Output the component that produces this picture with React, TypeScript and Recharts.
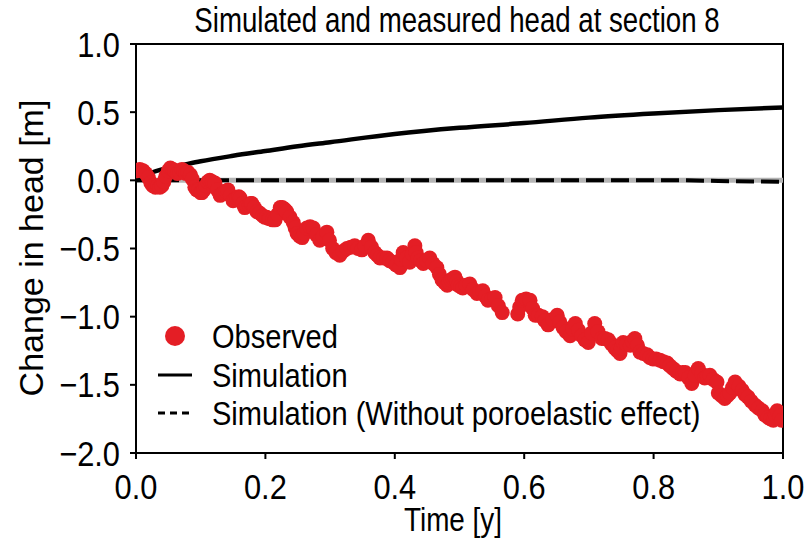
import React from 'react';
import { ComposedChart, Scatter, Line, XAxis, YAxis, ReferenceLine, ReferenceArea } from 'recharts';

const xTicks = [0, 0.2, 0.4, 0.6, 0.8, 1.0];
const yTicks = [-2, -1.5, -1, -0.5, 0, 0.5, 1];

const obsT = [
  0.002, 0.006, 0.011, 0.015, 0.019, 0.023, 0.026, 0.030, 0.034, 0.037, 0.040, 0.043, 0.046, 0.050, 0.053,
  0.057, 0.060, 0.064, 0.068, 0.071, 0.074, 0.077, 0.080, 0.084, 0.087, 0.091, 0.094, 0.097, 0.100, 0.102,
  0.105, 0.108, 0.111, 0.114, 0.118, 0.122, 0.126, 0.130, 0.133, 0.136, 0.139, 0.142, 0.146, 0.150, 0.153,
  0.156, 0.159, 0.161, 0.165, 0.168, 0.171, 0.175, 0.177, 0.179, 0.183, 0.187, 0.191, 0.196, 0.199, 0.202,
  0.205, 0.207, 0.211, 0.215, 0.219, 0.223, 0.226, 0.229, 0.231, 0.233, 0.238, 0.243, 0.246, 0.249, 0.253,
  0.257, 0.260, 0.264, 0.269, 0.274, 0.279, 0.284, 0.289, 0.295, 0.299, 0.304, 0.309, 0.315, 0.320, 0.326,
  0.332, 0.338, 0.343, 0.349, 0.354, 0.359, 0.364, 0.369, 0.373, 0.377, 0.383, 0.388, 0.392, 0.397, 0.402,
  0.408, 0.410, 0.413, 0.418, 0.423, 0.427, 0.431, 0.433, 0.436, 0.440, 0.444, 0.449, 0.454, 0.459, 0.465,
  0.469, 0.473, 0.477, 0.481, 0.484, 0.487, 0.490, 0.493, 0.496, 0.498, 0.502, 0.505, 0.510, 0.516, 0.521,
  0.527, 0.531, 0.536, 0.540, 0.544, 0.550, 0.555, 0.560, 0.566, 0.590, 0.593, 0.597, 0.603, 0.609, 0.613,
  0.617, 0.622, 0.628, 0.632, 0.637, 0.644, 0.651, 0.655, 0.660, 0.665, 0.671, 0.675, 0.679, 0.684, 0.689,
  0.694, 0.699, 0.704, 0.709, 0.714, 0.720, 0.725, 0.730, 0.735, 0.740, 0.744, 0.748, 0.750, 0.753, 0.758,
  0.764, 0.767, 0.771, 0.775, 0.779, 0.784, 0.790, 0.794, 0.799, 0.804, 0.810, 0.815, 0.821, 0.825, 0.830,
  0.835, 0.841, 0.845, 0.849, 0.854, 0.859, 0.864, 0.869, 0.874, 0.879, 0.883, 0.887, 0.892, 0.898, 0.900,
  0.905, 0.910, 0.914, 0.918, 0.922, 0.926, 0.932, 0.937, 0.941, 0.946, 0.951, 0.957, 0.962, 0.968, 0.972,
  0.977, 0.981, 0.985, 0.988, 0.991, 0.995, 0.998,
];
const obsV = [
  0.07, 0.08, 0.07, 0.05, 0.02, -0.02, -0.04, -0.05, -0.04, -0.05, -0.04, -0.01, 0.03, 0.07, 0.09,
  0.08, 0.07, 0.05, 0.06, 0.08, 0.07, 0.05, 0.06, 0.04, 0.01, -0.05, -0.07, -0.07, -0.09, -0.09,
  -0.07, -0.04, -0.01, 0.0, -0.01, -0.02, -0.07, -0.11, -0.10, -0.09, -0.08, -0.07, -0.11, -0.15, -0.14,
  -0.13, -0.12, -0.13, -0.17, -0.20, -0.19, -0.18, -0.17, -0.17, -0.20, -0.23, -0.24, -0.26, -0.27, -0.27,
  -0.28, -0.28, -0.29, -0.29, -0.25, -0.20, -0.20, -0.21, -0.22, -0.23, -0.27, -0.31, -0.35, -0.39, -0.41,
  -0.42, -0.39, -0.35, -0.34, -0.35, -0.40, -0.44, -0.41, -0.38, -0.44, -0.50, -0.53, -0.55, -0.52, -0.50,
  -0.49, -0.48, -0.50, -0.51, -0.48, -0.44, -0.49, -0.53, -0.55, -0.57, -0.57, -0.57, -0.59, -0.60, -0.62,
  -0.64, -0.58, -0.53, -0.57, -0.60, -0.54, -0.48, -0.53, -0.57, -0.59, -0.61, -0.59, -0.57, -0.61, -0.64,
  -0.69, -0.73, -0.75, -0.77, -0.75, -0.73, -0.72, -0.71, -0.74, -0.77, -0.78, -0.79, -0.77, -0.76, -0.80,
  -0.83, -0.82, -0.81, -0.85, -0.88, -0.87, -0.86, -0.92, -0.97, -0.98, -0.93, -0.88, -0.87, -0.88, -0.94,
  -0.99, -0.99, -1.00, -1.03, -1.06, -1.02, -0.99, -1.04, -1.08, -1.11, -1.14, -1.09, -1.05, -1.10, -1.14,
  -1.17, -1.19, -1.12, -1.05, -1.11, -1.16, -1.16, -1.17, -1.20, -1.23, -1.25, -1.27, -1.23, -1.19, -1.20,
  -1.21, -1.18, -1.16, -1.21, -1.26, -1.27, -1.28, -1.30, -1.31, -1.31, -1.32, -1.33, -1.34, -1.36, -1.38,
  -1.40, -1.42, -1.41, -1.41, -1.45, -1.49, -1.43, -1.38, -1.42, -1.45, -1.44, -1.43, -1.46, -1.48, -1.56,
  -1.58, -1.60, -1.58, -1.56, -1.52, -1.48, -1.51, -1.54, -1.57, -1.59, -1.62, -1.65, -1.67, -1.69, -1.72,
  -1.74, -1.75, -1.76, -1.72, -1.69, -1.73, -1.76,
];

const simT = [0, 0.01, 0.02, 0.04, 0.07, 0.1, 0.15, 0.2, 0.25, 0.3, 0.4, 0.5, 0.6, 0.7, 0.8, 0.9, 1.0];
const simV = [0, 0.03, 0.05, 0.08, 0.11, 0.14, 0.18, 0.215, 0.25, 0.28, 0.34, 0.385, 0.42, 0.46, 0.49, 0.515, 0.535];

const noPoroT = [0, 0.5, 0.85, 0.9, 1.0];
const noPoroV = [0, 0, 0, -0.005, -0.01];

const obsData = obsT.map((t, i) => ({ t, v: obsV[i] }));
const simData = simT.map((t, i) => ({ t, v: simV[i] }));
const noPoroData = noPoroT.map((t, i) => ({ t, v: noPoroV[i] }));

const FONT = "'Liberation Sans', Arial, Helvetica, sans-serif";
const RED = '#e41e25';
const SX = 0.88;

const fmt = (v: number) => (v < 0 ? '\u2212' + Math.abs(v).toFixed(1) : v.toFixed(1));

const XTick = (props: any) => {
  const { x, y, payload } = props;
  return (
    <text transform={`translate(${x},${y + 25}) scale(${SX},1)`} textAnchor="middle" fontFamily={FONT} fontSize={35} fill="#000">
      {fmt(payload.value)}
    </text>
  );
};

const YTick = (props: any) => {
  const { x, y, payload } = props;
  return (
    <text transform={`translate(${x},${y + 12.5}) scale(${SX},1)`} textAnchor="end" fontFamily={FONT} fontSize={35} fill="#000">
      {fmt(payload.value)}
    </text>
  );
};

const Dot = (props: any) => {
  const { cx, cy } = props;
  if (cx == null || cy == null) return null;
  return <circle cx={cx} cy={cy} r={7.5} fill={RED} />;
};

export default function App() {
  return (
    <div style={{ position: 'absolute', left: 0, top: 0, width: 807, height: 539, background: '#fff' }}>
      <ComposedChart width={807} height={539} margin={{ top: 44, right: 24, bottom: 0, left: 0 }}>
        <XAxis
          type="number"
          dataKey="t"
          domain={[0, 1]}
          ticks={xTicks}
          height={86}
          tickSize={6}
          tickMargin={15}
          tick={<XTick />}
          axisLine={{ stroke: '#000', strokeWidth: 2 }}
          tickLine={{ stroke: '#000', strokeWidth: 2 }}
          allowDataOverflow
        />
        <YAxis
          type="number"
          dataKey="v"
          domain={[-2, 1]}
          ticks={yTicks}
          width={136}
          tickSize={6}
          tickMargin={10}
          tick={<YTick />}
          axisLine={{ stroke: '#000', strokeWidth: 2 }}
          tickLine={{ stroke: '#000', strokeWidth: 2 }}
          allowDataOverflow
        />
        <ReferenceArea x1={0} x2={1} y1={-2} y2={1} fill="none" stroke="#000" strokeWidth={2} fillOpacity={0} />
        <ReferenceLine y={0} stroke="#b4b4b4" strokeWidth={5} />
        <Scatter data={obsData} dataKey="v" shape={<Dot />} isAnimationActive={false} />
        <Line data={simData} dataKey="v" type="monotone" stroke="#000" strokeWidth={4.5} dot={false} isAnimationActive={false} />
        <Line data={noPoroData} dataKey="v" type="linear" stroke="#000" strokeWidth={4} strokeDasharray="18 7" dot={false} isAnimationActive={false} />
      </ComposedChart>
      <svg width={807} height={539} style={{ position: 'absolute', left: 0, top: 0, pointerEvents: 'none' }}>
        <text transform="translate(457,32) scale(0.79,1)" textAnchor="middle" fontFamily={FONT} fontSize={35} fill="#000">
          Simulated and measured head at section 8
        </text>
        <text transform="translate(453,531) scale(0.82,1)" textAnchor="middle" fontFamily={FONT} fontSize={34} fill="#000">
          Time [y]
        </text>
        <text transform="translate(43,248) rotate(-90)" textAnchor="middle" fontFamily={FONT} fontSize={34} fill="#000">
          Change in head [m]
        </text>
        <circle cx={175} cy={336} r={10} fill={RED} />
        <text transform={`translate(212,348) scale(${SX},1)`} fontFamily={FONT} fontSize={33} fill="#000">Observed</text>
        <line x1={158} x2={192} y1={375} y2={375} stroke="#000" strokeWidth={3} />
        <text transform={`translate(212,387) scale(${SX},1)`} fontFamily={FONT} fontSize={33} fill="#000">Simulation</text>
        <line x1={158} x2={192} y1={413} y2={413} stroke="#000" strokeWidth={3} strokeDasharray="7 5" />
        <text transform={`translate(212,425) scale(${SX},1)`} fontFamily={FONT} fontSize={33} fill="#000">Simulation (Without poroelastic effect)</text>
      </svg>
    </div>
  );
}
